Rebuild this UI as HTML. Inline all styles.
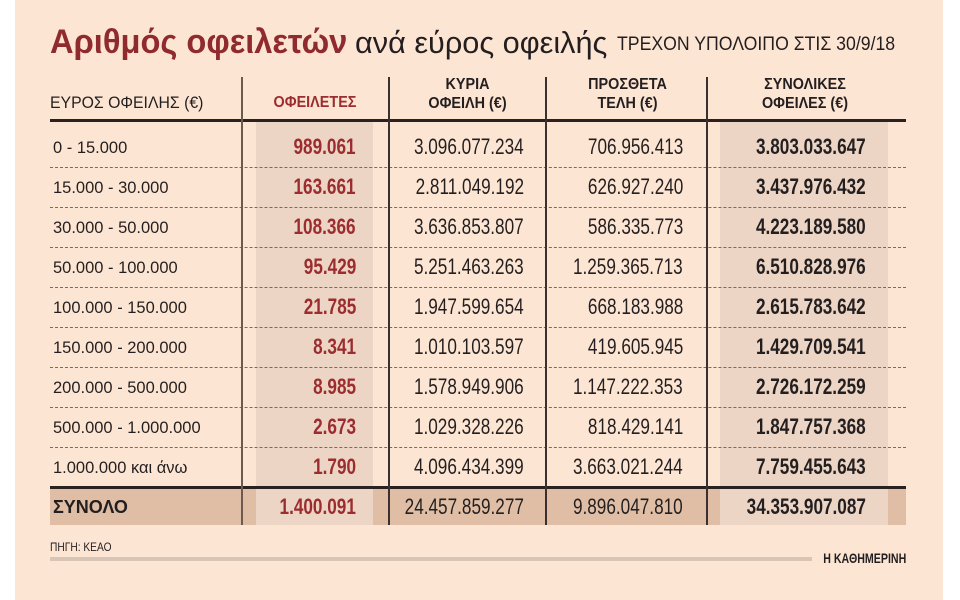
<!DOCTYPE html>
<html><head><meta charset="utf-8"><style>
*{margin:0;padding:0;box-sizing:border-box}
body{width:960px;height:600px;background:#fff;position:relative;overflow:hidden;font-family:"Liberation Sans","DejaVu Sans",sans-serif;color:#231f20}
#bg{position:absolute;left:15px;top:0;width:928px;height:600px;background:#fde5d3}
.a{position:absolute;white-space:nowrap}
.n{position:absolute;white-space:nowrap;font-size:22px;line-height:26px;transform:scaleX(.78);transform-origin:right center;text-align:right}
.l{position:absolute;white-space:nowrap;font-size:17px;line-height:20px;transform:scaleX(.97);transform-origin:left center}
.r{color:#9b2c30;font-weight:bold}
.b{font-weight:bold}
.h{position:absolute;font-weight:bold;font-size:16px;line-height:19px;text-align:center;transform:scaleX(.9)}
.dot{position:absolute;left:50px;width:856px;border-top:1px dashed #7a6a60;height:0}
.v{position:absolute;width:1.5px;background:#3a3030}
</style></head><body>
<div id="bg"></div>
<div class="a" style="left:50px;top:20px;font-size:34px;line-height:44px;font-weight:bold;color:#8f2a2e;transform:scaleX(.96);transform-origin:left">Αριθμός οφειλετών</div>
<div class="a" style="left:355px;top:21px;font-size:31px;line-height:44px;color:#231f20;transform:scaleX(.99);transform-origin:left">ανά εύρος οφειλής</div>
<div class="a" style="left:617px;top:33px;font-size:19px;line-height:24px;transform:scaleX(.93);transform-origin:left">ΤΡΕΧΟΝ ΥΠΟΛΟΙΠΟ ΣΤΙΣ 30/9/18</div>

<div class="a" style="left:256px;top:121px;width:117px;height:366px;background:#ecd5c4"></div>
<div class="a" style="left:720px;top:121px;width:168px;height:366px;background:#ecd5c4"></div>
<div class="a" style="left:50px;top:488px;width:856px;height:37px;background:#dfbea5"></div>
<div class="a" style="left:256px;top:488px;width:117px;height:37px;background:#ecd5c4"></div>
<div class="a" style="left:720px;top:488px;width:168px;height:37px;background:#ecd5c4"></div>

<div class="a" style="left:50px;top:119px;width:856px;height:2.5px;background:#2a2220"></div>
<div class="a" style="left:50px;top:486px;width:856px;height:2.5px;background:#2a2220"></div>
<div class="dot" style="top:167px"></div><div class="dot" style="top:207px"></div><div class="dot" style="top:247px"></div><div class="dot" style="top:287px"></div><div class="dot" style="top:327px"></div><div class="dot" style="top:367px"></div><div class="dot" style="top:407px"></div><div class="dot" style="top:447px"></div>
<div class="v" style="left:241px;top:77px;height:448px;background:#6a5a52"></div>
<div class="v" style="left:388px;top:77px;height:448px"></div>
<div class="v" style="left:545px;top:77px;height:448px"></div>
<div class="v" style="left:706px;top:77px;height:448px"></div>

<div class="l" style="left:50px;top:93px;transform:scaleX(.93)">ΕΥΡΟΣ ΟΦΕΙΛΗΣ (€)</div>
<div class="h" style="left:245px;top:93px;width:140px;color:#9b2c30">ΟΦΕΙΛΕΤΕΣ</div>
<div class="h" style="left:395px;top:75px;width:145px">ΚΥΡΙΑ<br>ΟΦΕΙΛΗ (€)</div>
<div class="h" style="left:555px;top:75px;width:145px">ΠΡΟΣΘΕΤΑ<br>ΤΕΛΗ (€)</div>
<div class="h" style="left:725px;top:75px;width:160px">ΣΥΝΟΛΙΚΕΣ<br>ΟΦΕΙΛΕΣ (€)</div>

<div class="l" style="left:53px;top:138px">0 - 15.000</div>
<div class="l" style="left:53px;top:178px">15.000 - 30.000</div>
<div class="l" style="left:53px;top:218px">30.000 - 50.000</div>
<div class="l" style="left:53px;top:258px">50.000 - 100.000</div>
<div class="l" style="left:53px;top:298px">100.000 - 150.000</div>
<div class="l" style="left:53px;top:338px">150.000 - 200.000</div>
<div class="l" style="left:53px;top:378px">200.000 - 500.000</div>
<div class="l" style="left:53px;top:418px">500.000 - 1.000.000</div>
<div class="l" style="left:53px;top:458px">1.000.000 και άνω</div>

<div class="n r" style="right:604px;top:134px">989.061</div>
<div class="n r" style="right:604px;top:174px">163.661</div>
<div class="n r" style="right:604px;top:214px">108.366</div>
<div class="n r" style="right:604px;top:254px">95.429</div>
<div class="n r" style="right:604px;top:294px">21.785</div>
<div class="n r" style="right:604px;top:334px">8.341</div>
<div class="n r" style="right:604px;top:374px">8.985</div>
<div class="n r" style="right:604px;top:414px">2.673</div>
<div class="n r" style="right:604px;top:454px">1.790</div>

<div class="n" style="right:436px;top:134px">3.096.077.234</div>
<div class="n" style="right:436px;top:174px">2.811.049.192</div>
<div class="n" style="right:436px;top:214px">3.636.853.807</div>
<div class="n" style="right:436px;top:254px">5.251.463.263</div>
<div class="n" style="right:436px;top:294px">1.947.599.654</div>
<div class="n" style="right:436px;top:334px">1.010.103.597</div>
<div class="n" style="right:436px;top:374px">1.578.949.906</div>
<div class="n" style="right:436px;top:414px">1.029.328.226</div>
<div class="n" style="right:436px;top:454px">4.096.434.399</div>

<div class="n" style="right:277px;top:134px">706.956.413</div>
<div class="n" style="right:277px;top:174px">626.927.240</div>
<div class="n" style="right:277px;top:214px">586.335.773</div>
<div class="n" style="right:277px;top:254px">1.259.365.713</div>
<div class="n" style="right:277px;top:294px">668.183.988</div>
<div class="n" style="right:277px;top:334px">419.605.945</div>
<div class="n" style="right:277px;top:374px">1.147.222.353</div>
<div class="n" style="right:277px;top:414px">818.429.141</div>
<div class="n" style="right:277px;top:454px">3.663.021.244</div>

<div class="n b" style="right:94px;top:134px">3.803.033.647</div>
<div class="n b" style="right:94px;top:174px">3.437.976.432</div>
<div class="n b" style="right:94px;top:214px">4.223.189.580</div>
<div class="n b" style="right:94px;top:254px">6.510.828.976</div>
<div class="n b" style="right:94px;top:294px">2.615.783.642</div>
<div class="n b" style="right:94px;top:334px">1.429.709.541</div>
<div class="n b" style="right:94px;top:374px">2.726.172.259</div>
<div class="n b" style="right:94px;top:414px">1.847.757.368</div>
<div class="n b" style="right:94px;top:454px">7.759.455.643</div>

<div class="a" style="left:53px;top:497px;font-size:18px;line-height:20px;font-weight:bold">ΣΥΝΟΛΟ</div>
<div class="n r" style="right:604px;top:494px">1.400.091</div>
<div class="n" style="right:436px;top:494px">24.457.859.277</div>
<div class="n" style="right:277px;top:494px">9.896.047.810</div>
<div class="n b" style="right:94px;top:494px">34.353.907.087</div>

<div class="a" style="left:50px;top:540px;font-size:12px;line-height:14px;transform:scaleX(.85);transform-origin:left">ΠΗΓΗ: ΚΕΑΟ</div>
<div class="a" style="left:50px;top:557px;width:762px;height:4px;background:#d9c5b6"></div>
<div class="a" style="right:54px;top:550px;font-size:14px;line-height:16px;font-weight:bold;transform:scaleX(.76);transform-origin:right">Η ΚΑΘΗΜΕΡΙΝΗ</div>
</body></html>
